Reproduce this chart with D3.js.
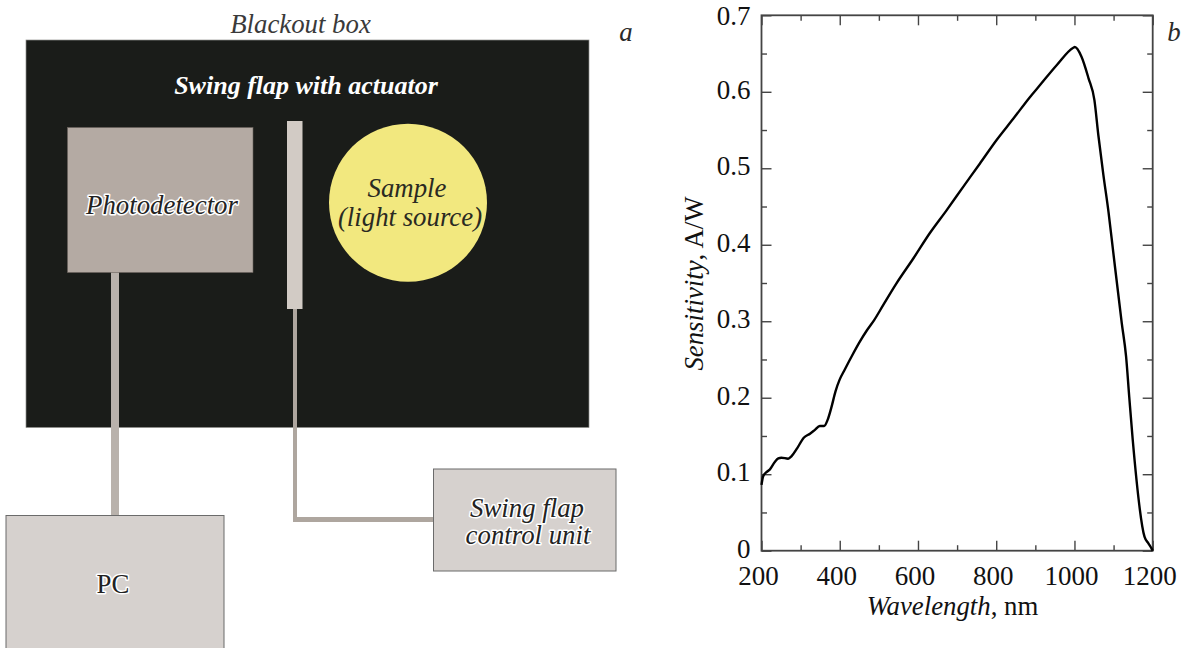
<!DOCTYPE html>
<html><head><meta charset="utf-8">
<script src="https://cdn.jsdelivr.net/npm/d3@7"></script>
<style>
html,body{margin:0;padding:0;background:#fff}
svg{display:block}
text{font-family:"Liberation Serif",serif;fill:#1a1a1a}
.halo{paint-order:stroke;stroke:#fff;stroke-width:3px;stroke-linejoin:round}
</style></head><body>
<svg id="c" width="1186" height="648"></svg>
<script>
const wavelength=[200,204,211,221,234,243,251,268,277,291,308,324,336,349,360,369,379,389,400,411,430,451,470,488,511,545,588,630,673,716,758,801,844,886,912,955,997,1001,1018,1036,1051,1061,1074,1087,1099,1121,1132,1140,1149,1179,1189,1197,1200];
const sensitivity=[.086,.097,.102,.106,.116,.1207,.1216,.1203,.1237,.1338,.1477,.153,.1577,.163,.163,.171,.188,.208,.224,.235,.2536,.273,.2885,.3015,.321,.3495,.382,.415,.445,.476,.506,.537,.565,.593,.6088,.635,.6575,.6585,.6459,.6176,.589,.5435,.491,.443,.391,.2973,.2536,.2013,.1447,.0183,.0097,.003,0];
const xMajor=[200,400,600,800,1000,1200];
const xMinor=[300,500,700,900,1100];
const yMajor=[0,.1,.2,.3,.4,.5,.6,.7];
const yMinor=[.05,.15,.25,.35,.45,.55,.65];

const svg=d3.select("#c");
const plot={l:761.5,r:1152.7,t:15.3,b:550.7};
const x=d3.scaleLinear().domain([200,1200]).range([plot.l,plot.r]);
const y=d3.scaleLinear().domain([0,.7]).range([plot.b,plot.t]);

/* ---------- panel a: schematic ---------- */
const a=svg.append("g");
const boxes=[
 {x:26,y:40,w:563,h:387.5,fill:"#1a1c19",stroke:"#8f8f8c",sw:.7},
 {x:111,y:272,w:8,h:244,fill:"#b9b2ac"},
 {x:293,y:308,w:4,h:214,fill:"#aea69f"},
 {x:295,y:517,w:139,h:5,fill:"#aea69f"},
 {x:67.5,y:127.5,w:185.5,h:145,fill:"#b4aaa3",stroke:"#6a625c",sw:.6},
 {x:287,y:121,w:15.5,h:188,fill:"#d2cbc5"},
 {x:6,y:515.5,w:218,h:137,fill:"#d6d1ce",stroke:"#6b6b6b",sw:1},
 {x:433.5,y:469,w:182.5,h:102,fill:"#d6d1ce",stroke:"#6b6b6b",sw:1}
];
a.selectAll("rect").data(boxes).join("rect")
 .attr("x",d=>d.x).attr("y",d=>d.y).attr("width",d=>d.w).attr("height",d=>d.h)
 .attr("fill",d=>d.fill).attr("stroke",d=>d.stroke||"none").attr("stroke-width",d=>d.sw||0);
a.append("circle").attr("cx",408).attr("cy",202.7).attr("r",79).attr("fill","#f2e87f");

const labelSize=26.8;
const labels=[
 {t:"Blackout box",x:300.5,y:33,fill:"#3a3a3a"},
 {t:"a",x:626,y:41,fill:"#2a2a2a"},
 {t:"Swing flap with actuator",x:306,y:94,fill:"#fff",weight:"bold",fs:26},
 {t:"Photodetector",x:162,y:214,fill:"#222",cls:"halo"},
 {t:"Sample",x:407,y:197,fill:"#2a2a22"},
 {t:"(light source)",x:410,y:226,fill:"#2a2a22"},
 {t:"PC",x:113,y:593,fill:"#222",cls:"halo",normal:true},
 {t:"Swing flap",x:527,y:517,fill:"#222",cls:"halo"},
 {t:"control unit",x:528,y:544,fill:"#222",cls:"halo"}
];
a.selectAll("text").data(labels).join("text")
 .attr("class",d=>d.cls||null)
 .attr("x",d=>d.x).attr("y",d=>d.y).attr("text-anchor","middle")
 .attr("font-size",d=>d.fs||labelSize).attr("font-style",d=>d.normal?"normal":"italic")
 .attr("font-weight",d=>d.weight||"normal")
 .style("fill",d=>d.fill).text(d=>d.t);

/* ---------- panel b: chart ---------- */
const axisCol="#444";
function styleAxis(g){
  g.selectAll("path.domain").remove();
  g.selectAll("line").attr("stroke",axisCol).attr("stroke-width",1.4);
  g.selectAll("text").attr("font-size",27).style("fill","#111")
   .style("font-family",'"Liberation Serif",serif');
}
const b=svg.append("g");
const fmtY=d=>d===0?"0":d3.format(".1f")(d);
b.append("g").attr("transform",`translate(-3.5,${plot.b+1})`)
 .call(d3.axisBottom(x).tickValues(xMajor).tickSize(0).tickPadding(14).tickFormat(d3.format("d")))
 .call(styleAxis);
b.append("g").attr("transform",`translate(${plot.l},-2)`)
 .call(d3.axisLeft(y).tickValues(yMajor).tickSize(0).tickPadding(11).tickFormat(fmtY))
 .call(styleAxis)
 .selectAll("g.tick").filter(d=>d===.7).select("text").attr("y",2.4);
const tick=(axis,vals,len,pos)=>b.append("g").attr("transform",`translate(${pos})`)
 .call(axis.tickValues(vals).tickSize(len).tickFormat("")).call(styleAxis);
tick(d3.axisTop(x),xMajor,10,[0,plot.b]);
tick(d3.axisTop(x),xMinor,5.5,[0,plot.b]);
tick(d3.axisBottom(x),xMajor,10,[0,plot.t]);
tick(d3.axisBottom(x),xMinor,5.5,[0,plot.t]);
tick(d3.axisRight(y),yMajor,10,[plot.l,0]);
tick(d3.axisRight(y),yMinor,5.5,[plot.l,0]);
tick(d3.axisLeft(y),yMajor,10,[plot.r,0]);
tick(d3.axisLeft(y),yMinor,5.5,[plot.r,0]);
b.append("rect").attr("x",plot.l).attr("y",plot.t)
 .attr("width",plot.r-plot.l).attr("height",plot.b-plot.t)
 .attr("fill","none").attr("stroke",axisCol).attr("stroke-width",1.8);

const line=d3.line().x((d,i)=>x(wavelength[i])).y(d=>y(d)).curve(d3.curveMonotoneX);
b.append("path").datum(sensitivity).attr("d",line)
 .attr("fill","none").attr("stroke","#000").attr("stroke-width",2.4).attr("stroke-linejoin","round");

const xt=b.append("text").attr("x",952.5).attr("y",615).attr("text-anchor","middle").attr("font-size",labelSize).style("fill","#111");
xt.append("tspan").attr("font-style","italic").text("Wavelength");
xt.append("tspan").text(", nm");
const yt=b.append("text").attr("transform","translate(703,283.5) rotate(-90)").attr("text-anchor","middle").attr("font-size",labelSize).style("fill","#111");
yt.append("tspan").attr("font-style","italic").text("Sensitivity");
yt.append("tspan").text(", A/W");
b.append("text").attr("x",1174).attr("y",41).attr("text-anchor","middle").attr("font-size",labelSize).attr("font-style","italic").style("fill","#2a2a2a").text("b");
</script>
</body></html>
